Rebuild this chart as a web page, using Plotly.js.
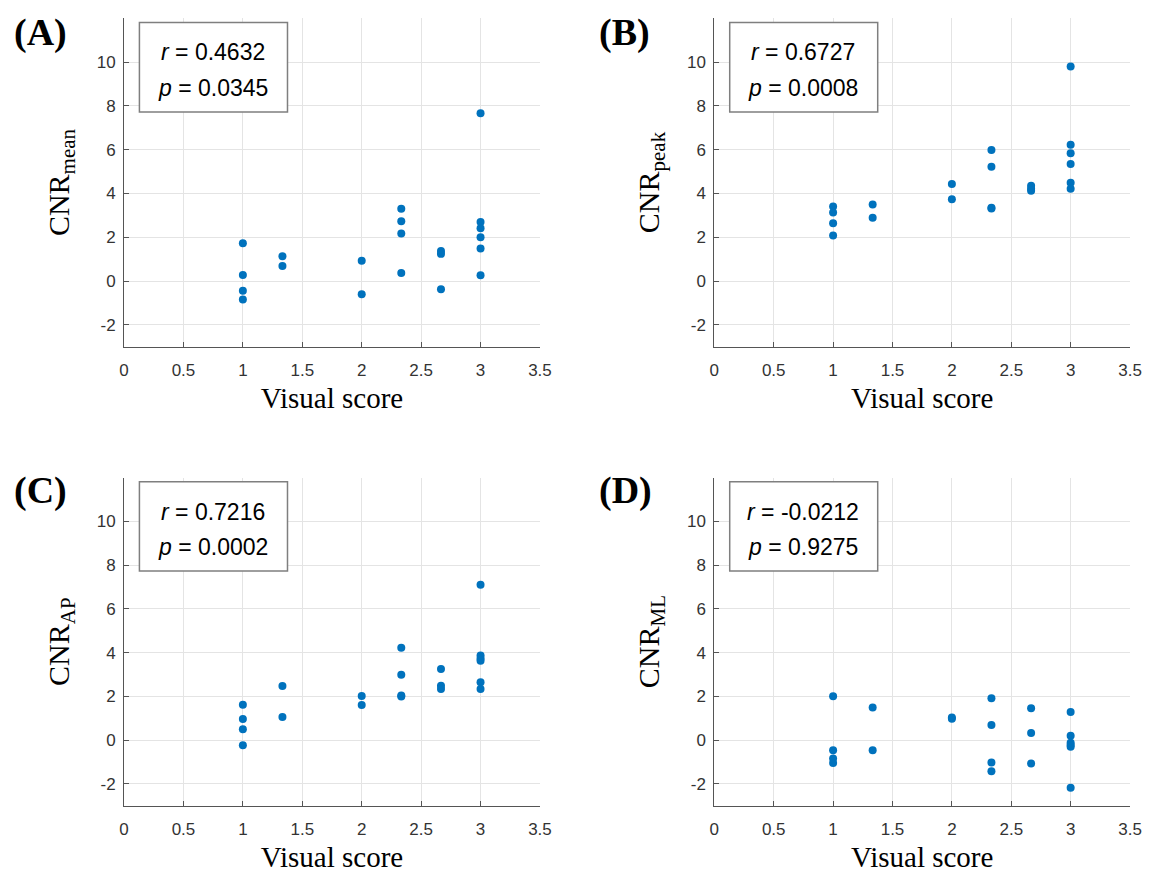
<!DOCTYPE html>
<html>
<head>
<meta charset="utf-8">
<script src="https://cdn.plot.ly/plotly-3.0.1.min.js"></script>
<style>html,body{margin:0;padding:0;background:#fff;}#chart{width:1157px;height:877px;}</style>
</head>
<body>
<div id="chart"></div>
<script>
// Visual score (x) shared by all panels
const visualScore = [1,1,1,1, 1.333,1.333, 2,2, 2.333,2.333,2.333,2.333, 2.667,2.667,2.667, 3,3,3,3,3,3];
// CNR values per panel
const cnrMean = [1.72,0.27,-0.44,-0.85, 1.13,0.69, 0.92,-0.60, 3.30,2.73,2.17,0.37, 1.37,1.24,-0.38, 7.66,2.70,2.41,2.00,1.48,0.26];
const cnrPeak = [3.40,3.13,2.64,2.08, 3.50,2.89, 4.43,3.74, 5.98,5.22,3.35,3.31, 4.35,4.22,4.12, 9.80,6.22,5.84,5.34,4.49,4.21];
const cnrAP   = [1.62,0.96,0.50,-0.24, 2.47,1.05, 2.01,1.60, 4.22,2.99,2.04,1.99, 3.25,2.48,2.33, 7.10,3.86,3.73,3.63,2.64,2.33];
const cnrML   = [2.00,-0.46,-0.84,-1.05, 1.49,-0.46, 1.03,0.98, 1.91,0.69,-1.02,-1.42, 1.45,0.32,-1.07, 1.28,0.20,-0.12,-0.22,-0.30,-2.18];

const panelLabels = ['(A)','(B)','(C)','(D)'];
const yTitles = ['CNR<sub>mean</sub>','CNR<sub>peak</sub>','CNR<sub>AP</sub>','CNR<sub>ML</sub>'];
const rValues = ['0.4632','0.6727','0.7216','-0.0212'];
const pValues = ['0.0345','0.0008','0.0002','0.9275'];
const xTitle = 'Visual score';
const xTicks = [0,0.5,1,1.5,2,2.5,3,3.5];
const xTickText = ['0','0.5','1','1.5','2','2.5','3','3.5'];
const yTicks = [-2,0,2,4,6,8,10];
const yTickText = ['-2','0','2','4','6','8','10'];
const series = [cnrMean, cnrPeak, cnrAP, cnrML];

const W = 1157, H = 877;
const xDomains = [[0.1072,0.4667],[0.6174,0.9767],[0.1072,0.4667],[0.6174,0.9767]];
const yDomains = [[0.6047,0.9791],[0.6047,0.9791],[0.0813,0.4555],[0.0813,0.4555]];
const labelPos = [[12/W, 1-32/H],[597/W, 1-32/H],[12/W, 1-491/H],[597/W, 1-491/H]];

const axisColor = '#555555';
const tickFont = {family:'Liberation Sans, Arial, sans-serif', size:17, color:'#333333'};
const titleFont = {family:'Liberation Serif, Times New Roman, serif', size:29, color:'#000000'};

const traces = [];
const layout = {
  width: W, height: H,
  margin: {l:0, r:0, t:0, b:0},
  paper_bgcolor: '#ffffff', plot_bgcolor: '#ffffff',
  showlegend: false,
  shapes: [], annotations: []
};

series.forEach((ys, i) => {
  const n = i === 0 ? '' : String(i+1);
  traces.push({
    type: 'scatter', mode: 'markers',
    x: visualScore, y: ys,
    xaxis: 'x' + n, yaxis: 'y' + n,
    marker: {color: '#0072BD', size: 8},
    hoverinfo: 'x+y'
  });
  layout['xaxis' + n] = {
    domain: xDomains[i], anchor: 'y' + n,
    range: [0, 3.5], tickvals: xTicks, ticktext: xTickText,
    ticks: 'inside', ticklen: 5, tickcolor: axisColor, tickwidth: 1,
    showline: true, linecolor: axisColor, linewidth: 1, mirror: false,
    showgrid: true, gridcolor: '#e4e4e4', gridwidth: 1, zeroline: false,
    tickfont: tickFont, ticklabelstandoff: 8,
    title: {text: xTitle, font: titleFont, standoff: 8}
  };
  layout['yaxis' + n] = {
    domain: yDomains[i], anchor: 'x' + n,
    range: [-3, 12], tickvals: yTicks, ticktext: yTickText,
    ticks: 'inside', ticklen: 5, tickcolor: axisColor, tickwidth: 1,
    showline: true, linecolor: axisColor, linewidth: 1, mirror: false,
    showgrid: true, gridcolor: '#e4e4e4', gridwidth: 1, zeroline: false,
    tickfont: tickFont, ticklabelstandoff: 4,
    title: {text: yTitles[i], font: {family: titleFont.family, size: 30, color: '#000'}, standoff: 18}
  };
  layout.shapes.push({
    type: 'rect', xref: 'x' + n + ' domain', yref: 'y' + n + ' domain',
    x0: 0.037, x1: 0.393, y0: 0.715, y1: 0.987,
    line: {color: '#7f7f7f', width: 1.5}, fillcolor: '#ffffff', layer: 'above'
  });
  const boxFont = {family:'Liberation Sans, Arial, sans-serif', size:23, color:'#000'};
  layout.annotations.push({
    xref: 'x' + n + ' domain', yref: 'y' + n + ' domain', x: 0.213, y: 0.896,
    text: '<i>r</i> = ' + rValues[i], showarrow: false, font: boxFont,
    xanchor: 'center', yanchor: 'middle'
  });
  layout.annotations.push({
    xref: 'x' + n + ' domain', yref: 'y' + n + ' domain', x: 0.213, y: 0.787,
    text: '<i>p</i> = ' + pValues[i], showarrow: false, font: boxFont,
    xanchor: 'center', yanchor: 'middle'
  });
  layout.annotations.push({
    xref: 'paper', yref: 'paper', x: labelPos[i][0], y: labelPos[i][1],
    text: '<b>' + panelLabels[i] + '</b>', showarrow: false,
    font: {family: 'Liberation Serif, Times New Roman, serif', size: 38, color: '#000'},
    xanchor: 'left', yanchor: 'middle'
  });
});

Plotly.newPlot('chart', traces, layout, {displayModeBar: false, staticPlot: true});
</script>
</body>
</html>
